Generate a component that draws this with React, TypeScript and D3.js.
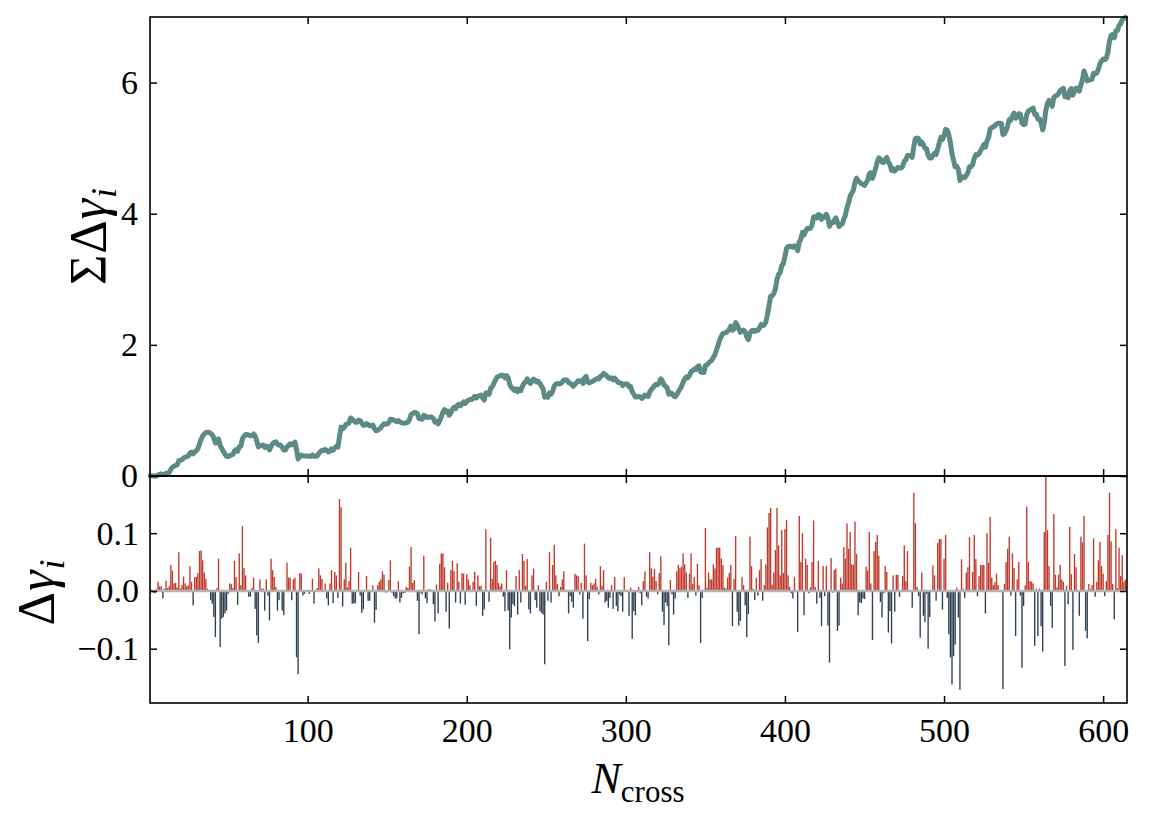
import React, { useEffect, useRef } from 'react';
import * as d3 from 'd3';

// Δγ_i for each crossing N = 1..614
const deltaGamma: number[] = [
  0.003, 0.002, -0.003, -0.004, 0.003, 0.016, 0.008, 0.008, -0.013, 0.004,
  0.018, 0.005, 0.008, 0.045, 0.035, 0.013, 0.014, 0.006, 0.067, 0.004,
  0.01, 0.025, 0.013, 0.008, 0.01, 0.043, 0.016, -0.025, 0.024, 0.024,
  0.031, 0.069, 0.07, 0.053, 0.032, 0.021, 0.004, 0, -0.016, -0.022,
  -0.045, -0.08, 0.005, 0.056, -0.097, -0.048, -0.045, -0.039, -0.034, -0.005,
  0.013, 0.012, 0.005, 0.052, 0.024, -0.024, 0.065, 0.01, 0.112, 0.04,
  0.027, 0, -0.01, -0.01, 0.005, 0.023, -0.031, -0.077, -0.09, 0.02,
  0.004, 0.004, -0.034, 0.02, -0.008, -0.051, 0.056, 0.036, 0.024, 0.007,
  -0.034, -0.016, 0, -0.034, -0.042, 0, 0.049, 0.023, 0.023, -0.016,
  0.02, 0.023, -0.115, -0.144, 0.031, 0.03, -0.008, -0.005, 0, 0,
  -0.005, 0, 0.021, -0.022, 0, 0.005, 0.039, 0.027, 0.021, -0.002,
  0.013, -0.013, -0.025, 0.013, 0.036, -0.021, 0.033, 0.027, -0.012, 0.159,
  0.145, -0.027, 0.02, 0.049, 0.006, 0.017, 0.075, -0.022, -0.022, -0.021,
  0, 0.033, -0.008, -0.038, -0.032, 0, 0.026, -0.017, -0.017, 0,
  0.01, -0.055, -0.033, 0.01, 0.016, 0.02, 0.034, 0.028, -0.003, 0,
  0.019, 0.053, -0.003, -0.009, -0.013, -0.013, 0.017, -0.02, -0.012, -0.004,
  -0.003, 0.007, 0.005, 0.042, 0.076, 0.014, 0.019, -0.002, -0.017, -0.075,
  -0.003, -0.006, 0.061, -0.013, -0.021, 0.003, 0.003, 0, -0.023, -0.053,
  0.011, -0.039, 0.047, 0.065, 0.065, 0.041, -0.036, 0.014, -0.065, 0.036,
  0.052, 0.034, -0.02, 0.048, 0.016, -0.022, 0.031, 0.03, -0.024, 0.029,
  0.02, 0.01, 0, 0.016, 0.033, -0.026, 0.027, 0.008, 0.009, -0.043,
  -0.032, 0.107, 0, -0.019, 0.092, 0.021, 0.05, 0.052, 0.045, 0.014,
  0.008, 0.013, -0.01, -0.035, 0.036, -0.034, -0.101, -0.046, -0.023, -0.026,
  0.026, -0.041, 0.036, -0.02, 0.064, 0.052, 0.009, 0.055, -0.032, -0.039,
  0.027, 0.039, -0.016, -0.029, 0.01, -0.035, -0.038, -0.041, -0.127, 0.016,
  -0.017, 0.067, -0.02, 0.045, 0.08, 0.027, 0.012, -0.009, 0.007, 0.02,
  0.034, 0, 0, -0.039, -0.009, -0.019, -0.029, 0.03, 0.027, 0.026,
  -0.006, 0.014, -0.048, 0.082, 0.027, -0.087, -0.014, 0.014, 0.01, 0.013,
  0.021, 0.007, -0.006, 0.043, 0.009, 0.036, -0.02, -0.017, -0.029, -0.012,
  0.01, -0.031, 0.024, -0.026, -0.035, -0.006, -0.009, -0.036, 0.024, 0,
  0, -0.043, 0.006, -0.083, -0.035, -0.042, 0, 0.007, -0.004, -0.025,
  0.017, 0.034, -0.01, -0.013, 0.067, 0.039, 0.025, 0.038, 0.017, -0.006,
  0.031, 0.06, -0.036, -0.059, -0.02, -0.026, -0.094, 0.019, -0.006, -0.041,
  -0.013, 0.034, 0.045, 0.04, 0.042, 0.065, 0.046, 0.032, -0.012, 0.03,
  0.065, 0.012, 0.024, -0.008, 0.047, 0.01, -0.09, -0.012, 0, 0.109,
  0.006, 0.032, 0.02, 0.02, 0.046, 0.039, 0.075, 0.075, 0.075, 0.056,
  0.045, 0.006, 0.004, 0.023, 0.031, 0.045, -0.061, 0.021, 0.095, -0.036,
  -0.06, -0.052, 0.024, 0.01, -0.025, -0.08, -0.04, 0.094, 0.043, 0.004,
  -0.016, 0.023, -0.008, 0.036, 0.055, -0.017, 0.01, 0.046, 0.11, 0.135,
  0.144, 0.011, 0.032, 0.071, 0.144, 0.079, 0.027, 0.105, 0.031, 0.107,
  0.123, 0.027, 0.007, -0.004, -0.013, 0.024, -0.002, -0.071, 0.13, 0.05,
  0.1, -0.042, 0.056, 0.045, -0.004, 0.006, 0.05, 0.122, 0.007, -0.022,
  0.052, -0.012, -0.061, 0.043, -0.009, 0.043, -0.06, -0.124, 0.057, -0.003,
  0.036, 0.039, -0.069, -0.06, 0.023, 0.013, 0.076, 0.056, 0.117, 0.073,
  0.102, 0.046, 0.045, 0.12, 0.064, -0.042, -0.02, -0.021, -0.013, -0.014,
  0.042, 0.035, 0.102, 0.013, -0.085, 0.069, 0.085, 0.097, 0.061, -0.019,
  -0.046, -0.004, 0.043, 0.033, -0.072, -0.035, -0.091, 0.027, -0.036, 0.028,
  0.028, -0.01, 0, 0.026, 0.079, 0.017, 0.069, 0, 0, -0.029,
  0.17, 0.117, 0.007, -0.009, -0.081, 0.032, -0.043, -0.054, -0.005, -0.1,
  -0.045, 0, 0.044, 0.027, -0.017, 0.083, 0.09, 0.09, -0.032, 0.056,
  0.097, -0.012, -0.075, -0.115, -0.162, -0.113, -0.093, 0.006, -0.046, -0.171,
  0.055, 0.004, -0.012, 0.032, 0.041, 0.093, -0.002, 0.033, 0.097, 0.055,
  -0.009, 0.026, 0.045, 0.045, 0.045, -0.039, 0.1, 0.049, 0.128, 0.023,
  0.01, 0.015, 0.03, 0.01, 0, -0.002, -0.17, 0.012, 0.05, 0.073,
  0.094, -0.008, 0.065, 0.04, -0.078, 0.02, 0.05, -0.008, -0.133, -0.026,
  0.01, 0.146, 0.05, 0.017, 0.016, 0.013, -0.095, 0.004, -0.078, 0.004,
  -0.061, -0.105, 0.102, 0.198, 0.105, 0.043, -0.026, -0.064, 0.133, 0.028,
  0.006, 0.028, 0.045, 0.02, 0.016, -0.13, 0.009, -0.023, 0.111, 0.029,
  -0.102, 0.064, 0.041, 0, -0.043, 0.094, 0.084, 0.13, -0.069, -0.082,
  0.012, 0.003, 0.01, 0.091, -0.01, 0.016, 0.053, 0.085, 0.043, 0.03,
  -0.009, 0.017, 0.097, 0.17, 0.086, 0.012, -0.049, 0.107, 0.005, 0.075,
  0.026, 0.062, 0.016, 0.02,
];

const nCross: number[] = deltaGamma.map((_, i) => i + 1);
const cumulative: number[] = Array.from(d3.cumsum(deltaGamma));

const xTicks = [100, 200, 300, 400, 500, 600];
const topTicks = [0, 2, 4, 6];
const bottomTicks = [-0.1, 0, 0.1];

const W = 1150;
const H = 819;
const L = 150;
const R = 1127;
const T1 = 17;
const B1 = 476;
const B2 = 703;
const FONT = "'Liberation Serif', 'Times New Roman', serif";
const TICK_FS = 34;
const LABEL_FS = 44;
const SUB_FS = 31;
const GREEK_FS = 52;
const GREEK_SUB_FS = 36;

export default function App() {
  const axesRef = useRef<SVGGElement>(null);

  const x = d3.scaleLinear().domain([0.9, 615]).range([L, R]);
  const yTop = d3.scaleLinear().domain([0, 7]).range([B1, T1]);
  const yBot = d3.scaleLinear().domain([-0.194, 0.199]).range([B2, B1]);

  const barW = x(0.85) - x(0);
  const linePath = d3
    .line<number>()
    .x((_, i) => x(nCross[i]))
    .y((d) => yTop(d))(cumulative) as string;

  useEffect(() => {
    const g = d3.select(axesRef.current);
    g.selectAll('*').remove();
    const tk = 7;
    const style = (sel: any) => {
      sel.selectAll('.domain').remove();
      sel.selectAll('line').attr('stroke', '#000').attr('stroke-width', 1.5);
      sel
        .selectAll('text')
        .attr('font-family', FONT)
        .attr('font-size', TICK_FS)
        .attr('fill', '#000');
    };
    const none = () => '';

    // top panel
    g.append('g')
      .attr('transform', `translate(0,${B1})`)
      .call(d3.axisBottom(x).tickValues(xTicks).tickSize(-tk).tickSizeOuter(0).tickFormat(none))
      .call(style);
    g.append('g')
      .attr('transform', `translate(0,${T1})`)
      .call(d3.axisTop(x).tickValues(xTicks).tickSize(-tk).tickSizeOuter(0).tickFormat(none))
      .call(style);
    g.append('g')
      .attr('transform', `translate(${L},0)`)
      .call(
        d3.axisLeft(yTop).tickValues(topTicks).tickSize(-tk).tickSizeOuter(0).tickPadding(12).tickFormat(d3.format('d'))
      )
      .call(style);
    g.append('g')
      .attr('transform', `translate(${R},0)`)
      .call(d3.axisRight(yTop).tickValues(topTicks).tickSize(-tk).tickSizeOuter(0).tickFormat(none))
      .call(style);

    // bottom panel
    g.append('g')
      .attr('transform', `translate(0,${B2})`)
      .call(d3.axisBottom(x).tickValues(xTicks).tickSize(-tk).tickSizeOuter(0).tickPadding(15).tickFormat(d3.format('d')))
      .call(style);
    g.append('g')
      .attr('transform', `translate(0,${B1})`)
      .call(d3.axisTop(x).tickValues(xTicks).tickSize(-tk).tickSizeOuter(0).tickFormat(none))
      .call(style);
    g.append('g')
      .attr('transform', `translate(${L},0)`)
      .call(
        d3.axisLeft(yBot).tickValues(bottomTicks).tickSize(-tk).tickSizeOuter(0).tickPadding(11).tickFormat(d3.format('.1f'))
      )
      .call(style);
    g.append('g')
      .attr('transform', `translate(${R},0)`)
      .call(d3.axisRight(yBot).tickValues(bottomTicks).tickSize(-tk).tickSizeOuter(0).tickFormat(none))
      .call(style);
  }, []);

  const y0 = yBot(0);

  return (
    <svg
      width={W}
      height={H}
      viewBox={`0 0 ${W} ${H}`}
      style={{ position: 'absolute', left: 0, top: 0, background: '#fff' }}
    >
      <rect x={0} y={0} width={W} height={H} fill="#fff" />
      {/* bars */}
      <g>
        {deltaGamma.map((v, i) => (
          <rect
            key={i}
            x={x(nCross[i]) - barW / 2}
            width={barW}
            y={v >= 0 ? yBot(v) : y0}
            height={Math.abs(yBot(v) - y0)}
            fill={v >= 0 ? '#c0392b' : '#2c3e50'}
          />
        ))}
      </g>
      <line x1={L} x2={R} y1={y0} y2={y0} stroke="#b3b3b3" strokeWidth={2.5} />
      {/* cumulative line */}
      <path d={linePath} fill="none" stroke="#5b8b84" strokeWidth={5} strokeLinejoin="round" strokeLinecap="round" />
      {/* frames */}
      <rect x={L} y={T1} width={R - L} height={B1 - T1} fill="none" stroke="#000" strokeWidth={1.6} />
      <rect x={L} y={B1} width={R - L} height={B2 - B1} fill="none" stroke="#000" strokeWidth={1.6} />
      <g ref={axesRef} />
      {/* axis labels */}
      <text
        transform={`translate(106,236) rotate(-90)`}
        textAnchor="middle"
        fontFamily={FONT}
        fontSize={GREEK_FS}
        letterSpacing={1}
        fill="#000"
      >
        ΣΔ<tspan fontStyle="italic">γ</tspan>
        <tspan fontStyle="italic" fontSize={GREEK_SUB_FS} dy={10}>i</tspan>
      </text>
      <text
        transform={`translate(54,592) rotate(-90)`}
        textAnchor="middle"
        fontFamily={FONT}
        fontSize={GREEK_FS}
        letterSpacing={1}
        fill="#000"
      >
        Δ<tspan fontStyle="italic">γ</tspan>
        <tspan fontStyle="italic" fontSize={GREEK_SUB_FS} dy={10}>i</tspan>
      </text>
      <text x={638} y={793} textAnchor="middle" fontFamily={FONT} fontSize={LABEL_FS} fill="#000">
        <tspan fontStyle="italic">N</tspan>
        <tspan fontSize={SUB_FS} dy={9}>cross</tspan>
      </text>
    </svg>
  );
}
